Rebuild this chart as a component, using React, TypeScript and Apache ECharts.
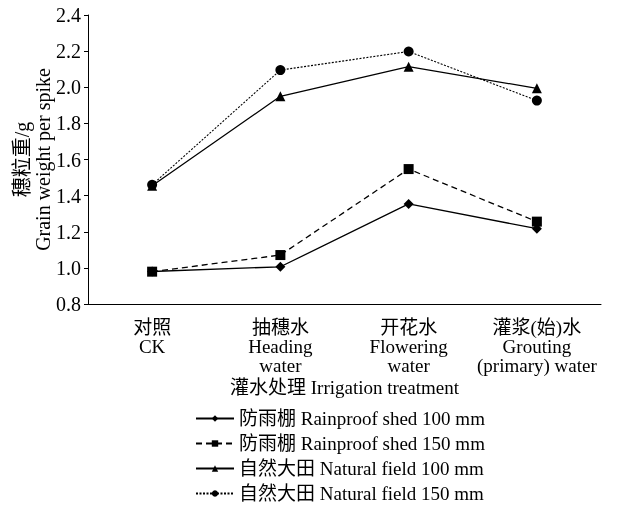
import React, { useEffect, useRef } from "react";
import * as echarts from "echarts";

const categories = [
  "对照\nCK",
  "抽穗水\nHeading\nwater",
  "开花水\nFlowering\nwater",
  "灌浆(始)水\nGrouting\n(primary) water",
];
const seriesNames = [
  "防雨棚 Rainproof shed 100 mm",
  "防雨棚 Rainproof shed 150 mm",
  "自然大田 Natural field 100 mm",
  "自然大田 Natural field 150 mm",
];
const rainproof100 = [0.98, 1.006, 1.354, 1.217];
const rainproof150 = [0.979, 1.071, 1.547, 1.256];
const natural100 = [1.455, 1.95, 2.114, 1.994];
const natural150 = [1.46, 2.095, 2.198, 1.926];
const yTicks = { min: 0.8, max: 2.4, interval: 0.2 };

const FONT = "Liberation Serif, Noto Sans CJK SC, serif";

export default function App() {
  const ref = useRef<HTMLDivElement>(null);
  useEffect(() => {
    if (!ref.current) return;
    const chart = echarts.init(ref.current, null, { renderer: "svg" });
    const black = "#000";
    const mk = (
      name: string,
      data: number[],
      symbol: string,
      size: number,
      type: any,
      width: number
    ) => ({
      name,
      type: "line",
      data,
      symbol,
      symbolSize: size,
      itemStyle: { color: black },
      lineStyle: { color: black, width, type },
      z: 3,
    });
    chart.setOption({
      animation: false,
      textStyle: { fontFamily: FONT, color: black },
      grid: { left: 88, right: 22, top: 15, bottom: 202, outerBoundsMode: "none" },
      xAxis: {
        type: "category",
        data: categories,
        boundaryGap: true,
        axisLine: { lineStyle: { color: black, width: 1 } },
        axisTick: { inside: true, length: 4, lineStyle: { color: black } },
        axisLabel: {
          color: black,
          fontFamily: FONT,
          fontSize: 19,
          lineHeight: 19,
          margin: 14,
          interval: 0,
        },
        name: "灌水处理 Irrigation treatment",
        nameLocation: "middle",
        nameGap: 74,
        nameMoveOverlap: false,
        nameTextStyle: { color: black, fontFamily: FONT, fontSize: 19 },
      },
      yAxis: {
        type: "value",
        min: yTicks.min,
        max: yTicks.max,
        interval: yTicks.interval,
        axisLine: { show: true, lineStyle: { color: black, width: 1 } },
        axisTick: { show: true, inside: false, length: 4, lineStyle: { color: black } },
        splitLine: { show: false },
        axisLabel: {
          color: black,
          fontFamily: FONT,
          fontSize: 20,
          margin: 7,
          formatter: (v: number) => v.toFixed(1),
        },
        name: "穗粒重/g\nGrain weight per spike",
        nameLocation: "middle",
        nameRotate: 90,
        nameGap: 35,
        nameMoveOverlap: false,
        nameTextStyle: { color: black, fontFamily: FONT, fontSize: 20, lineHeight: 21 },
      },
      legend: {
        orient: "vertical",
        left: 195,
        top: 409,
        padding: 0,
        itemWidth: 38,
        itemHeight: 8,
        itemGap: 6,
        textStyle: { color: black, fontFamily: FONT, fontSize: 19 },
        data: seriesNames,
      },
      series: [
        mk(seriesNames[0], rainproof100, "diamond", 10, "solid", 1.3),
        mk(seriesNames[1], rainproof150, "rect", 10, [6, 4], 1.3),
        mk(seriesNames[2], natural100, "triangle", 10, "solid", 1.3),
        mk(seriesNames[3], natural150, "circle", 10, [2, 1.5], 1.1),
      ],
    });
    return () => chart.dispose();
  }, []);
  return (
    <div
      ref={ref}
      style={{ position: "fixed", left: 0, top: 0, width: 623, height: 506 }}
    />
  );
}
